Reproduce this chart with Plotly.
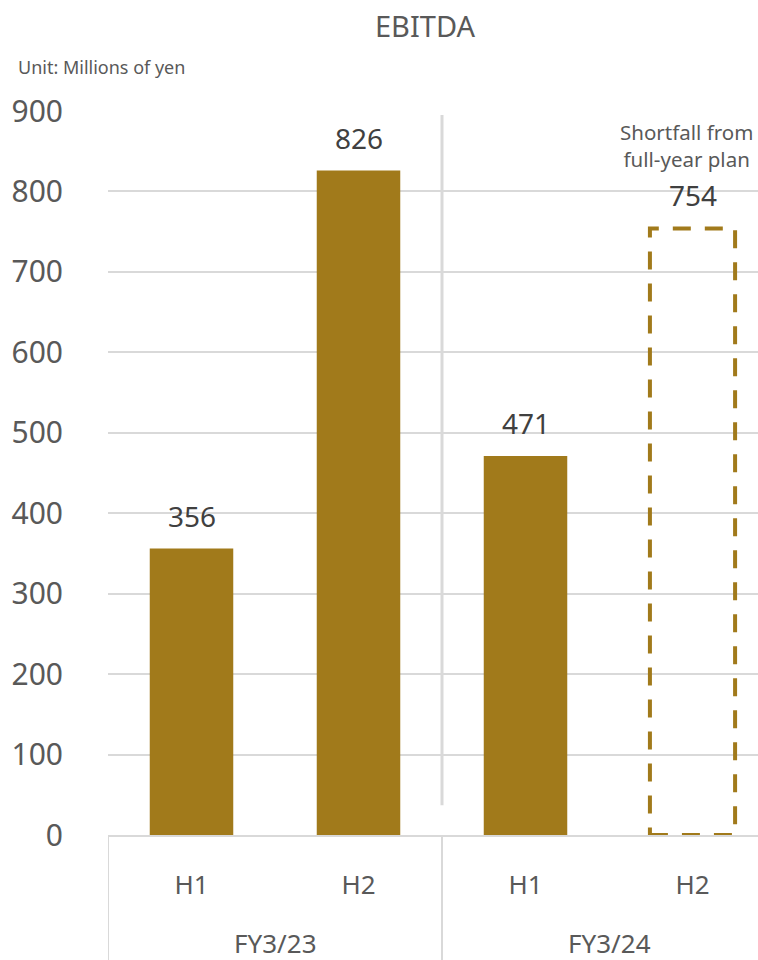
import plotly.graph_objects as go

# EBITDA by half-year (millions of yen)
fiscal_years = ["FY3/23", "FY3/24"]
halves = ["H1", "H2", "H1", "H2"]
actual_values = [356, 826, 471]          # reported halves
plan_shortfall = 754                      # FY3/24 H2: shortfall from full-year plan
y_ticks = [0, 100, 200, 300, 400, 500, 600, 700, 800, 900]

GOLD = "#A17A1B"
GRID = "#D9D9D9"
TEXT = "#595959"
LABEL = "#404040"
FONT = "Noto Sans"

positions = list(range(len(halves)))
bar_width = 0.5

fig = go.Figure()

fig.add_trace(go.Bar(
    x=positions[:len(actual_values)],
    y=actual_values,
    width=bar_width,
    marker=dict(color=GOLD, line=dict(width=0)),
    hoverinfo="skip",
    showlegend=False,
))

# value labels above each bar
all_values = actual_values + [plan_shortfall]
annotations = []
for pos, val in zip(positions, all_values):
    annotations.append(dict(
        x=pos, y=val, xref="x", yref="y", text=str(val), showarrow=False,
        yanchor="bottom", yshift=12, font=dict(family=FONT, size=28, color=LABEL),
    ))

# note above the plan box
annotations.append(dict(
    x=positions[3], y=plan_shortfall, xref="x", yref="y",
    text="Shortfall from<br>full-year plan", showarrow=False,
    yanchor="bottom", yshift=53, xshift=-6, align="center",
    font=dict(family=FONT, size=20.5, color=TEXT),
))

# fiscal-year group labels under the half-year ticks
for i, fy in enumerate(fiscal_years):
    annotations.append(dict(
        x=positions[2 * i] + 0.5, y=-0.149, xref="x", yref="paper", text=fy,
        showarrow=False, yanchor="middle", font=dict(family=FONT, size=26, color=TEXT),
    ))

annotations.append(dict(
    x=-0.141, y=1.0608, xref="paper", yref="paper", text="Unit: Millions of yen",
    showarrow=False, xanchor="left", yanchor="middle",
    font=dict(family=FONT, size=18, color=TEXT),
))

shapes = [
    # dashed outline for the plan shortfall
    dict(type="rect", xref="x", yref="y",
         x0=positions[3] - 0.255, x1=positions[3] + 0.255, y0=0, y1=plan_shortfall,
         line=dict(color=GOLD, width=4, dash="18px,14px"), fillcolor="rgba(0,0,0,0)",
         layer="above"),
    # separator between fiscal years inside the plot
    dict(type="line", xref="x", yref="y", x0=1.5, x1=1.5, y0=37, y1=895,
         line=dict(color=GRID, width=3), layer="below"),
    # group dividers below the axis
    dict(type="line", xref="x", yref="paper", x0=-0.5, x1=-0.5, y0=-0.2, y1=0,
         line=dict(color=GRID, width=2)),
    dict(type="line", xref="x", yref="paper", x0=1.5, x1=1.5, y0=-0.2, y1=0,
         line=dict(color=GRID, width=2)),
    dict(type="line", xref="x", yref="paper", x0=3.5, x1=3.5, y0=-0.2, y1=0,
         line=dict(color=GRID, width=2)),
]

fig.update_layout(
    width=758, height=960,
    margin=dict(l=108, r=0, t=111, b=125),
    paper_bgcolor="white", plot_bgcolor="white",
    title=dict(text="EBITDA", x=0.5607, xref="container", xanchor="center",
               y=1 - 27 / 960, yref="container", yanchor="middle",
               font=dict(family=FONT, size=29, color=TEXT)),
    annotations=annotations,
    shapes=shapes,
    bargap=0.5,
)

fig.update_xaxes(
    range=[-0.5, -0.5 + 650 / 167],
    tickvals=positions, ticktext=halves,
    tickfont=dict(family=FONT, size=26, color=TEXT),
    ticks="outside", ticklen=26, tickcolor="rgba(0,0,0,0)",
    showgrid=False, zeroline=False,
    showline=True, linecolor=GRID, linewidth=2,
    fixedrange=True,
)

fig.update_yaxes(
    range=[0, 900], tickvals=y_ticks,
    tickfont=dict(family=FONT, size=30, color=TEXT),
    ticks="outside", ticklen=38, tickcolor="rgba(0,0,0,0)",
    showgrid=True, gridcolor=GRID, gridwidth=1.5,
    zeroline=False, showline=False,
    fixedrange=True,
)

fig.write_html("out.html")
